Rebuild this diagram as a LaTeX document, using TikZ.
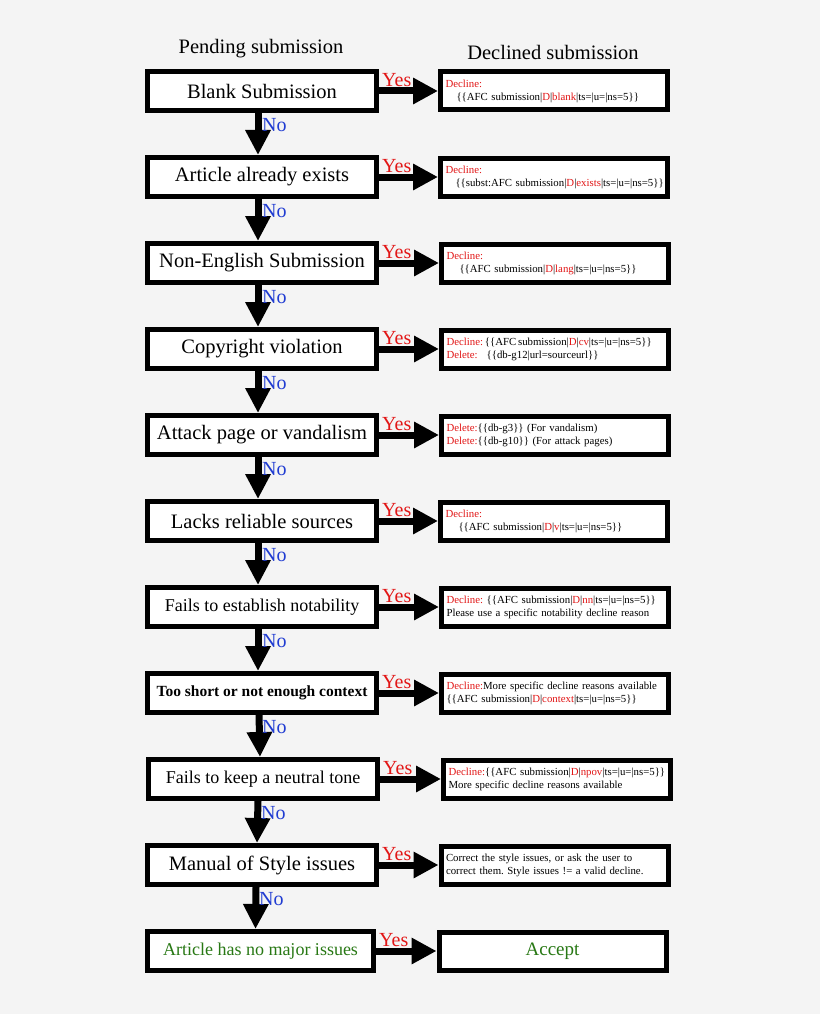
\documentclass[tikz,border=0pt]{standalone}
\usepackage{fontspec}
\setmainfont{Liberation Serif}
\usetikzlibrary{arrows.meta}
\frenchspacing
\definecolor{pagegray}{RGB}{244,244,244}
\definecolor{declinered}{RGB}{226,22,22}
\definecolor{noblue}{RGB}{32,60,210}
\definecolor{acceptgreen}{RGB}{40,120,20}
\newcommand{\redtxt}[1]{\textcolor{declinered}{#1}}
\tikzset{
pending/.style={draw,line width=5pt,fill=white,minimum width=229pt,minimum height=39pt,inner sep=0pt,font=\fontsize{20.5}{24}\selectfont},
declined/.style={draw,line width=5pt,fill=white,text width=217pt,inner xsep=5pt,inner ysep=0pt,minimum height=38pt,align=left,font=\fontsize{10.8}{13}\selectfont},
yesarrow/.style={line width=7pt,-{Triangle[length=25pt,width=25pt]}},
noarrow/.style={line width=7pt,-{Triangle[length=25pt,width=24pt]}},
yeslabel/.style={text=declinered,inner sep=0pt,anchor=base west,font=\fontsize{20}{24}\selectfont},
nolabel/.style={text=noblue,inner sep=0pt,anchor=north west,font=\fontsize{20}{24}\selectfont},
header/.style={inner sep=0pt,font=\fontsize{20.5}{24}\selectfont}
}
\begin{document}
\begin{tikzpicture}[x=1pt,y=-1pt]
\fill[pagegray] (0,0) rectangle (820,1014);
\node[header] (pendhead) at (261,49) {Pending submission};
\node[header] (declhead) at (553,52) {Declined submission};
\node[pending] (p1) at (262,91) {Blank Submission};
\node[pending] (p2) at (262,177) {Article already exists};
\node[pending] (p3) at (262,263) {Non-English Submission};
\node[pending] (p4) at (262,349) {Copyright violation};
\node[pending] (p5) at (262,435) {Attack page or vandalism};
\node[pending] (p6) at (262,521) {Lacks reliable sources};
\node[pending,font=\fontsize{18}{22}\selectfont] (p7) at (262,607) {Fails to establish notability};
\node[pending,font=\bfseries\fontsize{15.5}{19}\selectfont] (p8) at (262,693) {Too short or not enough context};
\node[pending,font=\fontsize{18}{22}\selectfont] (p9) at (263,779) {Fails to keep a neutral tone};
\node[pending] (p10) at (262,865) {Manual of Style issues};
\node[pending,minimum width=226pt,text=acceptgreen,font=\fontsize{18}{22}\selectfont] (p11) at (260.5,951) {Article has no major issues};
\node[declined] (d1) at (554,91) {\redtxt{Decline:}\\\hspace*{11pt}\{\{AFC submission|\redtxt{D}|\redtxt{blank}|ts=|u=|ns=5\}\}};
\node[declined] (d2) at (554,177) {\redtxt{Decline:}\\\mbox{\hspace*{10pt}\{\{subst:AFC submission|\redtxt{D}|\redtxt{exists}|ts=|u=|ns=5\}\}}};
\node[declined] (d3) at (555,263) {\redtxt{Decline:}\\\hspace*{13pt}\{\{AFC submission|\redtxt{D}|\redtxt{lang}|ts=|u=|ns=5\}\}};
\node[declined] (d4) at (555,349) {\redtxt{Decline:}\,\{\{AFC\,submission|\redtxt{D}|\redtxt{cv}|ts=|u=|ns=5\}\}\\\redtxt{Delete:}\hspace{9pt}\{\{db-g12|url=sourceurl\}\}};
\node[declined] (d5) at (555,435) {\redtxt{Delete:}\{\{db-g3\}\} (For vandalism)\\\redtxt{Delete:}\{\{db-g10\}\} (For attack pages)};
\node[declined] (d6) at (554,521) {\redtxt{Decline:}\\\hspace*{13pt}\{\{AFC submission|\redtxt{D}|\redtxt{v}|ts=|u=|ns=5\}\}};
\node[declined] (d7) at (555,607) {\redtxt{Decline:} \{\{AFC submission|\redtxt{D}|\redtxt{nn}|ts=|u=|ns=5\}\}\\Please use a specific notability decline reason};
\node[declined] (d8) at (555,693) {\redtxt{Decline:}More specific decline reasons available\\\{\{AFC submission|\redtxt{D}|\redtxt{context}|ts=|u=|ns=5\}\}};
\node[declined] (d9) at (557,779) {\mbox{\redtxt{Decline:}\{\{AFC submission|\redtxt{D}|\redtxt{npov}|ts=|u=|ns=5\}\}}\\More specific decline reasons available};
\node[declined] (d10) at (554.5,865) {Correct the style issues, or ask the user to\\correct them. Style issues != a valid decline.};
\node[declined,align=center,text=acceptgreen,font=\fontsize{19}{23}\selectfont] (d11) at (552.5,951) {Accept};
\draw[yesarrow] (p1.east) -- (d1.west);
\draw[yesarrow] (p2.east) -- (d2.west);
\draw[yesarrow] (p3.east) -- (d3.west);
\draw[yesarrow] (p4.east) -- (d4.west);
\draw[yesarrow] (p5.east) -- (d5.west);
\draw[yesarrow] (p6.east) -- (d6.west);
\draw[yesarrow] (p7.east) -- (d7.west);
\draw[yesarrow] (p8.east) -- (d8.west);
\draw[yesarrow] (p9.east) -- (d9.west);
\draw[yesarrow] (p10.east) -- (d10.west);
\draw[yesarrow] (p11.east) -- (d11.west);
\draw[noarrow] ([xshift=-4pt]p1.south) -- ([xshift=-4pt]p2.north);
\draw[noarrow] ([xshift=-4pt]p2.south) -- ([xshift=-4pt]p3.north);
\draw[noarrow] ([xshift=-4pt]p3.south) -- ([xshift=-4pt]p4.north);
\draw[noarrow] ([xshift=-4pt]p4.south) -- ([xshift=-4pt]p5.north);
\draw[noarrow] ([xshift=-4pt]p5.south) -- ([xshift=-4pt]p6.north);
\draw[noarrow] ([xshift=-4pt]p6.south) -- ([xshift=-4pt]p7.north);
\draw[noarrow] ([xshift=-4pt]p7.south) -- ([xshift=-4pt]p8.north);
\draw[noarrow] ([xshift=-3pt]p8.south) -- ([xshift=-3pt]p9.north);
\draw[noarrow] ([xshift=-5pt]p9.south) -- ([xshift=-5pt]p10.north);
\draw[noarrow] ([xshift=-6pt]p10.south) -- ([xshift=-5pt]p11.north);
\node[yeslabel] (y1) at ([xshift=3pt,yshift=4.5pt]p1.east) {Yes};
\node[yeslabel] (y2) at ([xshift=3pt,yshift=4.5pt]p2.east) {Yes};
\node[yeslabel] (y3) at ([xshift=3pt,yshift=4.5pt]p3.east) {Yes};
\node[yeslabel] (y4) at ([xshift=3pt,yshift=4.5pt]p4.east) {Yes};
\node[yeslabel] (y5) at ([xshift=3pt,yshift=4.5pt]p5.east) {Yes};
\node[yeslabel] (y6) at ([xshift=3pt,yshift=4.5pt]p6.east) {Yes};
\node[yeslabel] (y7) at ([xshift=3pt,yshift=4.5pt]p7.east) {Yes};
\node[yeslabel] (y8) at ([xshift=3pt,yshift=4.5pt]p8.east) {Yes};
\node[yeslabel] (y9) at ([xshift=3pt,yshift=4.5pt]p9.east) {Yes};
\node[yeslabel] (y10) at ([xshift=3pt,yshift=4.5pt]p10.east) {Yes};
\node[yeslabel] (y11) at ([xshift=3pt,yshift=4.5pt]p11.east) {Yes};
\node[nolabel] (n1) at ([yshift=-5.5pt]p1.south) {No};
\node[nolabel] (n2) at ([yshift=-5.5pt]p2.south) {No};
\node[nolabel] (n3) at ([yshift=-5.5pt]p3.south) {No};
\node[nolabel] (n4) at ([yshift=-5.5pt]p4.south) {No};
\node[nolabel] (n5) at ([yshift=-5.5pt]p5.south) {No};
\node[nolabel] (n6) at ([yshift=-5.5pt]p6.south) {No};
\node[nolabel] (n7) at ([yshift=-5.5pt]p7.south) {No};
\node[nolabel] (n8) at ([yshift=-5.5pt]p8.south) {No};
\node[nolabel] (n9) at ([xshift=-2pt,yshift=-5.5pt]p9.south) {No};
\node[nolabel] (n10) at ([xshift=-3pt,yshift=-5.5pt]p10.south) {No};
\end{tikzpicture}
\end{document}
